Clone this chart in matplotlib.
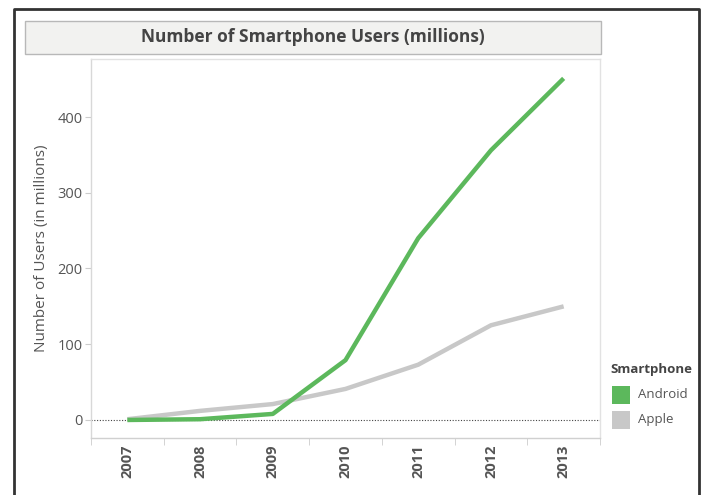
"""Number of smartphone users, Android vs Apple"""
import matplotlib
matplotlib.use("Agg")
from matplotlib import pyplot as plt
from matplotlib.patches import Rectangle
from matplotlib.lines import Line2D

years = ['2007', '2008', '2009', '2010', '2011', '2012', '2013']
android = [0, 1, 8, 79, 240, 356, 451]
apple = [1, 12, 21, 41, 73, 125, 150]

GREEN = '#5cb85c'
GREY = '#c8c8c8'
TXT = '#555555'

plt.rcParams['font.family'] = ['Open Sans', 'DejaVu Sans']

W, H = 707, 495
fig = plt.figure(figsize=(W / 100, H / 100), dpi=100)
fig.patch.set_facecolor('white')

def fx(px):
    return px / W

def fy(py):
    return 1 - py / H

# outer frame (bottom edge runs off the picture)
fig.add_artist(Line2D([fx(14), fx(14), fx(699), fx(699)], [0, fy(9), fy(9), 0],
                      transform=fig.transFigure, color='#333333', lw=2))

# title box
fig.add_artist(Rectangle((fx(25), fy(54)), fx(601) - fx(25), fy(21) - fy(54),
                         transform=fig.transFigure, facecolor='#f2f2f0',
                         edgecolor='#b8b8b8', lw=1))
fig.text(fx(313), fy(37.5), 'Number of Smartphone Users (millions)', ha='center',
         va='center', fontsize=12.5, fontweight='bold', color='#444444')

ax = fig.add_axes([fx(91), fy(438), fx(600) - fx(91), fy(59) - fy(438)])
x = list(range(len(years)))
ax.plot(x, apple, color=GREY, lw=3.2, solid_capstyle='butt', zorder=3)
ax.plot(x, android, color=GREEN, lw=3.2, solid_capstyle='butt', zorder=4)
ax.axhline(0, color='#444444', lw=0.8, ls=(0, (1, 1.5)), zorder=2)

ax.set_xlim(-0.5, len(years) - 0.5)
ax.set_ylim(-23.8, 476.6)
ax.set_yticks([0, 100, 200, 300, 400])
ax.set_xticks(x)
ax.set_xticklabels(years, rotation=90, fontsize=10.5, fontweight='bold', color=TXT)
ax.tick_params(axis='x', length=0, pad=5)
ax.set_xticks([i + 0.5 for i in range(-1, len(years))], minor=True)
ax.tick_params(axis='x', which='minor', length=5, color='#cccccc', direction='out')
ax.tick_params(axis='y', length=4, color='#cccccc', labelsize=10.5, labelcolor=TXT, pad=2)
for s in ax.spines.values():
    s.set_color('#e2e2e2')
    s.set_linewidth(1)
ax.spines['bottom'].set_color('#d0d0d0')
ax.spines['left'].set_color('#d8d8d8')
ax.set_ylabel('Number of Users (in millions)', fontsize=11, color=TXT, labelpad=6)

# legend
fig.text(fx(610), fy(370), 'Smartphone', fontsize=9.5, fontweight='bold',
         color='#444444', va='center')
for i, (name, col) in enumerate([('Android', GREEN), ('Apple', GREY)]):
    yc = 395 + 25 * i
    fig.add_artist(Rectangle((fx(612), fy(yc + 9)), fx(630) - fx(612), fy(yc - 9) - fy(yc + 9),
                             transform=fig.transFigure, facecolor=col, edgecolor='none'))
    fig.text(fx(638), fy(yc), name, fontsize=9.5, color=TXT, va='center')

fig.savefig('out.png', dpi=100)
